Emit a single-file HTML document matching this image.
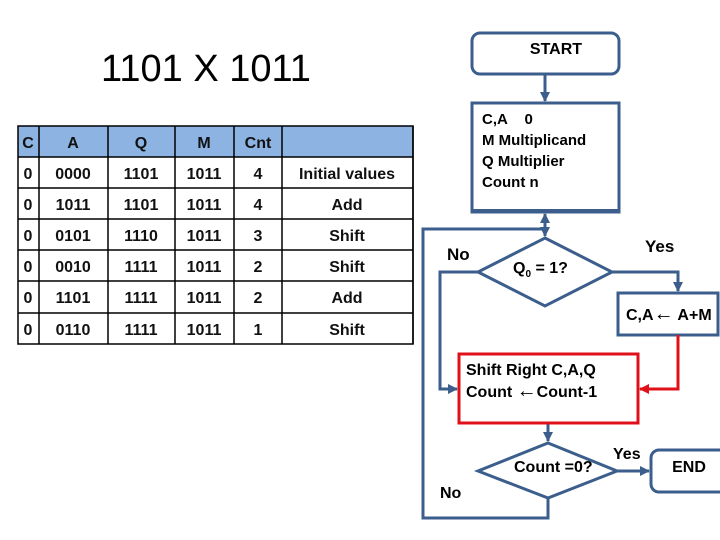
<!DOCTYPE html>
<html><head><meta charset="utf-8"><style>
html,body{margin:0;padding:0;background:#fff;}
svg{display:block;}
.t{font-family:"Liberation Sans",sans-serif;}
</style></head><body>
<svg width="720" height="540" viewBox="0 0 720 540" xmlns="http://www.w3.org/2000/svg">
<defs>
<marker id="ab" markerWidth="12" markerHeight="12" refX="9" refY="5" orient="auto" markerUnits="userSpaceOnUse"><path d="M0,0 L10,5 L0,10 Z" fill="#3b5e8c"/></marker>
<marker id="ar" markerWidth="12" markerHeight="12" refX="9" refY="5" orient="auto" markerUnits="userSpaceOnUse"><path d="M0,0 L10,5 L0,10 Z" fill="#e0101a"/></marker>
</defs>
<text class="t" x="206" y="81" font-size="38" text-anchor="middle">1101 X 1011</text>
<rect x="18" y="126" width="395" height="31" fill="#8db3e2"/>
<g stroke="#000" stroke-width="1.5" fill="none">
<rect x="18" y="126" width="395" height="218"/>
<line x1="18" y1="157" x2="413" y2="157"/><line x1="18" y1="188" x2="413" y2="188"/><line x1="18" y1="219" x2="413" y2="219"/><line x1="18" y1="250" x2="413" y2="250"/><line x1="18" y1="281" x2="413" y2="281"/><line x1="18" y1="313" x2="413" y2="313"/>
<line x1="39" y1="126" x2="39" y2="344"/><line x1="108" y1="126" x2="108" y2="344"/><line x1="175" y1="126" x2="175" y2="344"/><line x1="234" y1="126" x2="234" y2="344"/><line x1="282" y1="126" x2="282" y2="344"/><line x1="413" y1="126" x2="413" y2="344"/>
</g>
<g class="t" font-size="16" font-weight="bold" text-anchor="middle" fill="#111">
<text x="28" y="148">C</text><text x="73" y="148">A</text><text x="141" y="148">Q</text><text x="204" y="148">M</text><text x="258" y="148">Cnt</text>
<text x="28" y="179">0</text><text x="73" y="179">0000</text><text x="141" y="179">1101</text><text x="204" y="179">1011</text><text x="258" y="179">4</text><text x="347" y="179">Initial values</text>
<text x="28" y="210">0</text><text x="73" y="210">1011</text><text x="141" y="210">1101</text><text x="204" y="210">1011</text><text x="258" y="210">4</text><text x="347" y="210">Add</text>
<text x="28" y="241">0</text><text x="73" y="241">0101</text><text x="141" y="241">1110</text><text x="204" y="241">1011</text><text x="258" y="241">3</text><text x="347" y="241">Shift</text>
<text x="28" y="272">0</text><text x="73" y="272">0010</text><text x="141" y="272">1111</text><text x="204" y="272">1011</text><text x="258" y="272">2</text><text x="347" y="272">Shift</text>
<text x="28" y="303">0</text><text x="73" y="303">1101</text><text x="141" y="303">1111</text><text x="204" y="303">1011</text><text x="258" y="303">2</text><text x="347" y="303">Add</text>
<text x="28" y="335">0</text><text x="73" y="335">0110</text><text x="141" y="335">1111</text><text x="204" y="335">1011</text><text x="258" y="335">1</text><text x="347" y="335">Shift</text>
</g>
<g stroke="#3b5e8c" stroke-width="3" fill="none">
<rect x="472" y="33" width="147" height="41" rx="8"/>
<line x1="545" y1="74" x2="545" y2="101" marker-end="url(#ab)"/>
<rect x="472" y="103" width="147" height="109" fill="#fff"/>
<line x1="472" y1="211" x2="619" y2="211" stroke-width="4"/>
<line x1="545" y1="236" x2="545" y2="214" marker-end="url(#ab)"/>
<polyline points="548,229 423,229 423,518 548,518 548,498"/>
<line x1="545" y1="229" x2="545" y2="236" marker-end="url(#ab)"/>
<polygon points="545,238 612,272 545,306 478,272" fill="#fff"/>
<polyline points="478,272 440,272 440,389 457,389" marker-end="url(#ab)"/>
<polyline points="612,272 678,272 678,291" marker-end="url(#ab)"/>
<rect x="618" y="293" width="100" height="42" fill="#fff"/>
<line x1="548" y1="423" x2="548" y2="441" marker-end="url(#ab)"/>
<polygon points="548,443 617,471 548,498 478,471" fill="#fff"/>
<line x1="617" y1="471" x2="649" y2="471" marker-end="url(#ab)"/>
<rect x="651" y="450" width="80" height="42" rx="8"/>
</g>
<polyline points="678,335 678,389 640,389" stroke="#e0101a" stroke-width="3" fill="none" marker-end="url(#ar)"/>
<rect x="459" y="354" width="179" height="69" stroke="#e0101a" stroke-width="3" fill="none"/>
<g class="t" font-weight="bold" fill="#000">
<text x="556" y="54" font-size="16" text-anchor="middle">START</text>
<text x="482" y="124" font-size="15">C,A&#160;&#160;&#160;&#160;0</text>
<text x="482" y="145" font-size="15">M Multiplicand</text>
<text x="482" y="166" font-size="15">Q  Multiplier</text>
<text x="482" y="187" font-size="15">Count n</text>
<text x="513" y="273" font-size="16">Q<tspan font-size="10" dy="4">0</tspan><tspan dy="-4"> = 1?</tspan></text>
<text x="447" y="260" font-size="17">No</text>
<text x="645" y="252" font-size="17">Yes</text>
<text x="626" y="320" font-size="16">C,A<tspan font-size="20">&#8592;</tspan> A+M</text>
<text x="466" y="375" font-size="16">Shift Right C,A,Q</text>
<text x="466" y="397" font-size="16">Count <tspan font-size="20">&#8592;</tspan>Count-1</text>
<text x="514" y="472" font-size="16">Count =0?</text>
<text x="613" y="459" font-size="16">Yes</text>
<text x="440" y="498" font-size="16">No</text>
<text x="689" y="472" font-size="16" text-anchor="middle">END</text>
</g>
</svg>
</body></html>
